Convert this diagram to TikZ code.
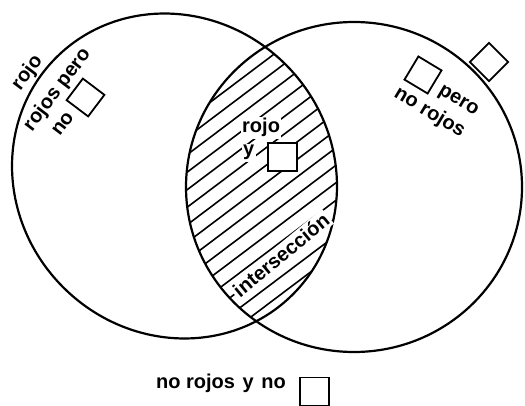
\documentclass[tikz,border=0pt]{standalone}
\usepackage{fontspec}
\setmainfont{Liberation Sans}
\begin{document}
\begin{tikzpicture}[x=1pt,y=-1pt,
  lbl/.style={font=\bfseries\fontsize{20}{23}\selectfont, inner sep=0pt},
  sq/.style={draw, line width=1.8pt, minimum size=27pt, inner sep=0pt, fill=white},
  outline/.style={line width=2.2pt},
  hatch/.style={line width=1.6pt}]
\useasboundingbox (0,0) rectangle (525,406);

% hatching of the common part of both sets
\begin{scope}
  \clip[rotate around={-45:(174.5,176)}] (174.5,176) ellipse [x radius=167.4, y radius=157.4];
  \clip (354,187) ellipse [x radius=168, y radius=165];
  \begin{scope}[shift={(190,135)}, rotate=37]
    \foreach \k in {-5,...,18}
      \draw[hatch] (-300,\k*14) -- (300,\k*14);
  \end{scope}
\end{scope}

% the two sets
\draw[outline, rotate around={-45:(174.5,176)}] (174.5,176) ellipse [x radius=167.4, y radius=157.4];
\draw[outline] (354,187) ellipse [x radius=168, y radius=165];

% left set
\node[lbl, rotate=53] (rojoA) at (27.5,73) {rojo};
\node[lbl, rotate=53] (rojosPero) at (57.5,90) {rojos pero};
\node[lbl, rotate=53] (noA) at (63,124) {no};
\node[sq, rotate=53] (sqA) at (85.5,97.5) {};

% right set
\node[sq, rotate=-31] (sqB) at (423,75) {};
\node[lbl, rotate=-31] (peroB) at (458,101.5) {pero};
\node[lbl, rotate=-31] (noRojosB) at (429.5,112.5) {no rojos};
\node[sq, rotate=45] (sqOut) at (489,62) {};

% intersection
\node[lbl, fill=white, inner sep=1.5pt, anchor=base west] (rojoC) at (240.5,133) {rojo};
\node[lbl, fill=white, inner sep=1.5pt, anchor=base west] (yC) at (241.5,156) {y};
\node[sq, minimum size=28.5pt] (sqC) at (282.5,157) {};
\node[lbl, fill=white, inner sep=2pt, rotate=39.6] (inter) at (281,255) {intersección};

% outside both sets
\node[lbl, anchor=base west] (bottomTxt) at (156,388) {no rojos\hspace{2pt} y\hspace{2pt} no};
\node[sq, minimum width=29pt, minimum height=28pt] (sqD) at (314.5,391.5) {};
\end{tikzpicture}
\end{document}
